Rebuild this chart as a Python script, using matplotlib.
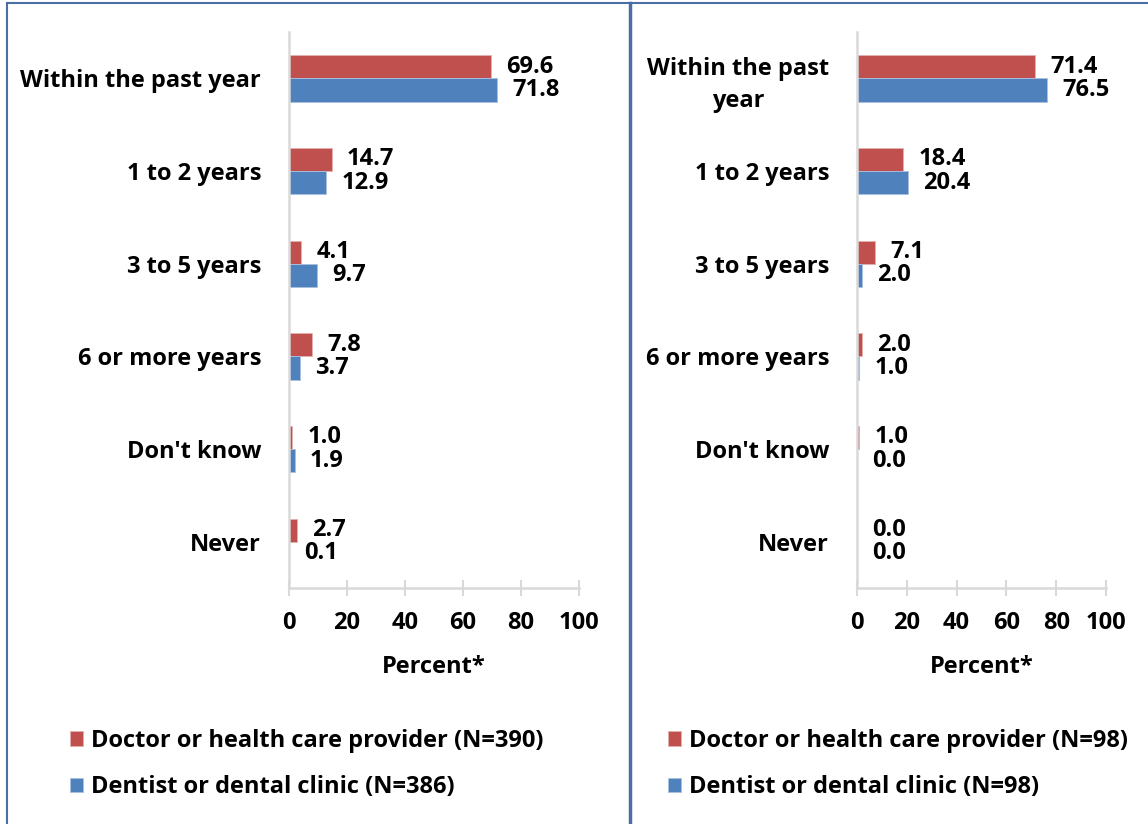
import matplotlib
matplotlib.use("Agg")
import matplotlib.pyplot as plt
from matplotlib.lines import Line2D
import numpy as np

plt.rcParams['font.family'] = ['Open Sans', 'DejaVu Sans']
plt.rcParams['font.weight'] = 'bold'

categories_left = ["Within the past year", "1 to 2 years", "3 to 5 years",
                   "6 or more years", "Don't know", "Never"]
categories_right = ["Within the past\nyear", "1 to 2 years", "3 to 5 years",
                    "6 or more years", "Don't know", "Never"]

left_doctor = [69.6, 14.7, 4.1, 7.8, 1.0, 2.7]
left_dentist = [71.8, 12.9, 9.7, 3.7, 1.9, 0.1]
right_doctor = [71.4, 18.4, 7.1, 2.0, 1.0, 0.0]
right_dentist = [76.5, 20.4, 2.0, 1.0, 0.0, 0.0]

left_labels = ["Doctor or health care provider (N=390)", "Dentist or dental clinic (N=386)"]
right_labels = ["Doctor or health care provider (N=98)", "Dentist or dental clinic (N=98)"]

xticks = [0, 20, 40, 60, 80, 100]

RED = '#C0504D'
BLUE = '#4F81BD'
AXC = '#D9D9D9'
BORDER = '#4A6FA5'
FS = 17

W, H = 1148, 824
fig = plt.figure(figsize=(W / 100, H / 100), dpi=100)


def panel(x0, x1, cats, doc, den, labels, leg_x):
    top, bot = 32, 588
    ax = fig.add_axes([x0 / W, 1 - bot / H, (x1 - x0) / W, (bot - top) / H])
    n = len(cats)
    y = np.arange(n)
    h = 0.25
    b1 = ax.barh(y - h / 2, doc, height=h, color=RED, edgecolor='#E6B0AE', linewidth=0.6, label=labels[0])
    b2 = ax.barh(y + h / 2, den, height=h, color=BLUE, edgecolor='#A9C0DE', linewidth=0.6, label=labels[1])
    for bars, vals in ((b1, doc), (b2, den)):
        for rect, v in zip(bars, vals):
            ax.annotate(f"{v:.1f}", (v, rect.get_y() + rect.get_height() / 2),
                        xytext=(11, 0), textcoords='offset points',
                        ha='left', va='center', fontsize=FS, fontweight='bold')
    ax.set_xlim(0, 100)
    ax.set_ylim(n - 0.5, -0.5)
    ax.set_yticks(y)
    ax.set_yticklabels(cats, fontsize=FS, fontweight='bold')
    for lab in ax.get_yticklabels():
        lab.set_multialignment('center')
        lab.set_linespacing(1.4)
    ax.tick_params(axis='y', length=0, pad=20)
    ax.set_xticks(xticks)
    ax.set_xticklabels([str(t) for t in xticks], fontsize=FS, fontweight='bold')
    ax.tick_params(axis='x', direction='inout', length=11.5, width=1.5, color=AXC, pad=11)
    for s in ('top', 'right'):
        ax.spines[s].set_visible(False)
    for s in ('left', 'bottom'):
        ax.spines[s].set_color(AXC)
        ax.spines[s].set_linewidth(1.8)
    ax.set_xlabel("Percent*", fontsize=FS, fontweight='bold', labelpad=14)
    ax.legend(handles=[b1, b2], labels=labels, loc='center left',
              bbox_to_anchor=(leg_x / W, 1 - 764 / H), bbox_transform=fig.transFigure,
              frameon=False, prop={'weight': 'bold', 'size': FS},
              handlelength=0.55, handleheight=0.55, handletextpad=0.35,
              labelspacing=0.95, borderpad=0, borderaxespad=0)
    return ax


panel(289, 579, categories_left, left_doctor, left_dentist, left_labels, 70)
panel(857, 1106, categories_right, right_doctor, right_dentist, right_labels, 668)

# outer frame lines
fig.add_artist(Line2D([7 / W, 1], [1 - 3 / H, 1 - 3 / H], color=BORDER, lw=1.5, transform=fig.transFigure))
fig.add_artist(Line2D([7 / W, 7 / W], [0, 1 - 3 / H], color=BORDER, lw=1.5, transform=fig.transFigure))
fig.add_artist(Line2D([630 / W, 630 / W], [0, 1 - 3 / H], color=BORDER, lw=2.5, transform=fig.transFigure))

fig.savefig("out.png", dpi=100)
